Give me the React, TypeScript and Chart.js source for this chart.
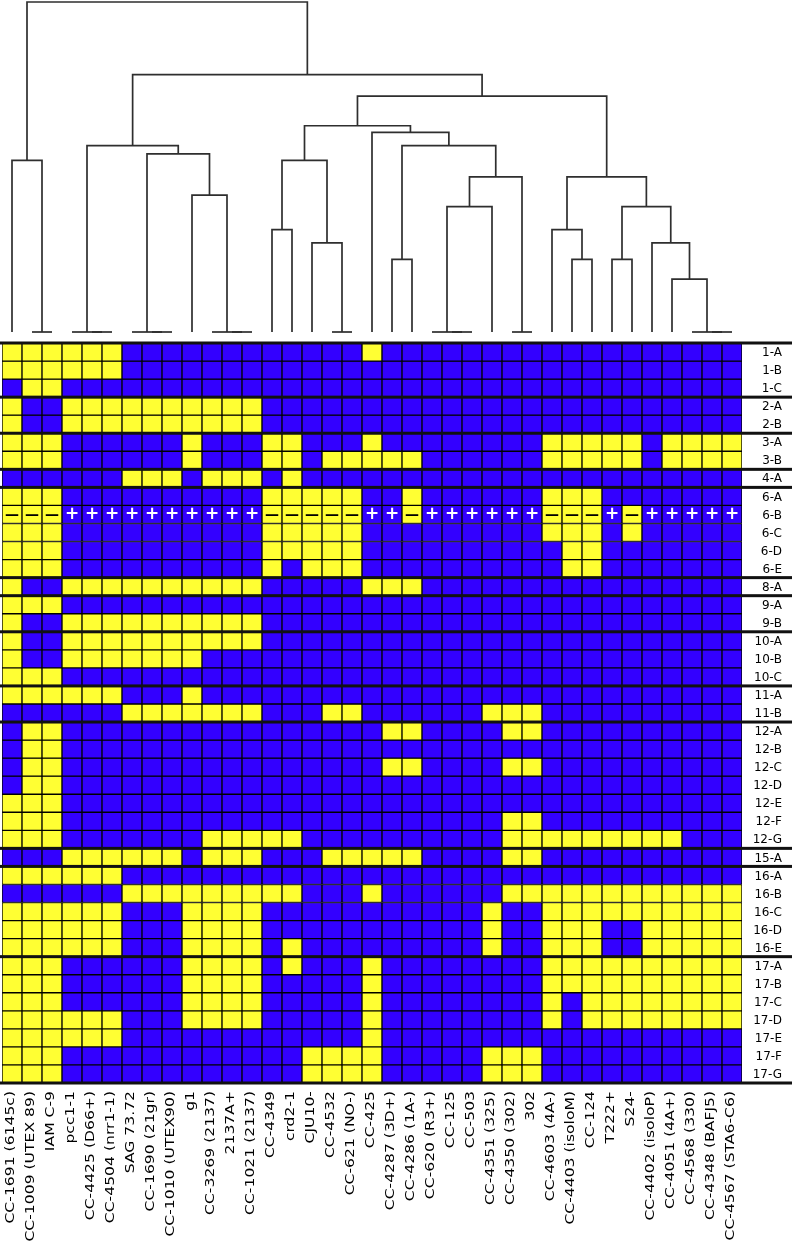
import React, { useEffect, useRef } from "react";
import { Chart, registerables } from "chart.js";

Chart.register(...registerables);

// ---------- data ----------
const strains: string[] = [
  "CC-1691 (6145c)", "CC-1009 (UTEX 89)", "IAM C-9", "pcc1-1", "CC-4425 (D66+)",
  "CC-4504 (nrr1-1)", "SAG 73.72", "CC-1690 (21gr)", "CC-1010 (UTEX90)", "g1",
  "CC-3269 (2137)", "2137A+", "CC-1021 (2137)", "CC-4349", "crd2-1", "CJU10-",
  "CC-4532", "CC-621 (NO-)", "CC-425", "CC-4287 (3D+)", "CC-4286 (1A-)",
  "CC-620 (R3+)", "CC-125", "CC-503", "CC-4351 (325)", "CC-4350 (302)", "302",
  "CC-4603 (4A-)", "CC-4403 (isoloM)", "CC-124", "T222+", "S24-",
  "CC-4402 (isoloP)", "CC-4051 (4A+)", "CC-4568 (330)", "CC-4348 (BAFJ5)",
  "CC-4567 (STA6-C6)",
];

const rowLabels: string[] = [
  "1-A", "1-B", "1-C", "2-A", "2-B", "3-A", "3-B", "4-A",
  "6-A", "6-B", "6-C", "6-D", "6-E", "8-A", "9-A", "9-B",
  "10-A", "10-B", "10-C", "11-A", "11-B",
  "12-A", "12-B", "12-C", "12-D", "12-E", "12-F", "12-G", "15-A",
  "16-A", "16-B", "16-C", "16-D", "16-E",
  "17-A", "17-B", "17-C", "17-D", "17-E", "17-F", "17-G",
];

// column indices (strains) where the marker is present (yellow) for each row
const rowPresent: number[][] = [
  [0, 1, 2, 3, 4, 5, 18],
  [0, 1, 2, 3, 4, 5],
  [1, 2],
  [0, 3, 4, 5, 6, 7, 8, 9, 10, 11, 12],
  [0, 3, 4, 5, 6, 7, 8, 9, 10, 11, 12],
  [0, 1, 2, 9, 13, 14, 18, 27, 28, 29, 30, 31, 33, 34, 35, 36],
  [0, 1, 2, 9, 13, 14, 16, 17, 18, 19, 20, 27, 28, 29, 30, 31, 33, 34, 35, 36],
  [6, 7, 8, 10, 11, 12, 14],
  [0, 1, 2, 13, 14, 15, 16, 17, 20, 27, 28, 29],
  [0, 1, 2, 13, 14, 15, 16, 17, 20, 27, 28, 29, 31],
  [0, 1, 2, 13, 14, 15, 16, 17, 27, 28, 29, 31],
  [0, 1, 2, 13, 14, 15, 16, 17, 28, 29],
  [0, 1, 2, 13, 15, 16, 17, 28, 29],
  [0, 3, 4, 5, 6, 7, 8, 9, 10, 11, 12, 18, 19, 20],
  [0, 1, 2],
  [0, 3, 4, 5, 6, 7, 8, 9, 10, 11, 12],
  [0, 3, 4, 5, 6, 7, 8, 9, 10, 11, 12],
  [0, 3, 4, 5, 6, 7, 8, 9],
  [0, 1, 2],
  [0, 1, 2, 3, 4, 5, 9],
  [6, 7, 8, 9, 10, 11, 12, 16, 17, 24, 25, 26],
  [1, 2, 19, 20, 25, 26],
  [1, 2],
  [1, 2, 19, 20, 25, 26],
  [1, 2],
  [0, 1, 2],
  [0, 1, 2, 25, 26],
  [0, 1, 2, 10, 11, 12, 13, 14, 25, 26, 27, 28, 29, 30, 31, 32, 33],
  [3, 4, 5, 6, 7, 8, 10, 11, 12, 16, 17, 18, 19, 20, 25, 26],
  [0, 1, 2, 3, 4, 5],
  [6, 7, 8, 9, 10, 11, 12, 13, 14, 18, 25, 26, 27, 28, 29, 30, 31, 32, 33, 34, 35, 36],
  [0, 1, 2, 3, 4, 5, 9, 10, 11, 12, 24, 27, 28, 29, 30, 31, 32, 33, 34, 35, 36],
  [0, 1, 2, 3, 4, 5, 9, 10, 11, 12, 24, 27, 28, 29, 32, 33, 34, 35, 36],
  [0, 1, 2, 3, 4, 5, 9, 10, 11, 12, 14, 24, 27, 28, 29, 32, 33, 34, 35, 36],
  [0, 1, 2, 9, 10, 11, 12, 14, 18, 27, 28, 29, 30, 31, 32, 33, 34, 35, 36],
  [0, 1, 2, 9, 10, 11, 12, 18, 27, 28, 29, 30, 31, 32, 33, 34, 35, 36],
  [0, 1, 2, 9, 10, 11, 12, 18, 27, 29, 30, 31, 32, 33, 34, 35, 36],
  [0, 1, 2, 3, 4, 5, 9, 10, 11, 12, 18, 27, 29, 30, 31, 32, 33, 34, 35, 36],
  [0, 1, 2, 3, 4, 5, 18],
  [0, 1, 2, 15, 16, 17, 18, 24, 25, 26],
  [0, 1, 2, 15, 16, 17, 18, 24, 25, 26],
];

// row indices where a new marker group starts (thick separators)
const groupBreaks: number[] = [0, 3, 5, 7, 8, 13, 14, 16, 19, 21, 28, 29, 34, 41];

// row whose cells carry +/− symbols
const signRowLabel = "6-B";

// hierarchical clustering (scipy-style linkage): [childA, childB, distance]
// indices < 37 are strains, indices >= 37 refer to earlier merges
const linkage: [number, number, number][] = [
  [1, 2, 0],        // 37
  [4, 5, 0],        // 38
  [3, 38, 0],       // 39
  [7, 8, 0],        // 40
  [6, 40, 0],       // 41
  [11, 12, 0],      // 42
  [10, 42, 0],      // 43
  [16, 17, 0],      // 44
  [22, 23, 0],      // 45
  [21, 45, 0],      // 46
  [25, 26, 0],      // 47
  [35, 36, 0],      // 48
  [34, 48, 0],      // 49
  [0, 37, 0.52],    // 50
  [9, 43, 0.415],   // 51
  [41, 51, 0.54],   // 52
  [39, 52, 0.565],  // 53
  [13, 14, 0.31],   // 54
  [15, 44, 0.27],   // 55
  [54, 55, 0.52],   // 56
  [19, 20, 0.22],   // 57
  [46, 24, 0.38],   // 58
  [58, 47, 0.47],   // 59
  [57, 59, 0.565],  // 60
  [18, 60, 0.605],  // 61
  [56, 61, 0.625],  // 62
  [28, 29, 0.22],   // 63
  [27, 63, 0.31],   // 64
  [30, 31, 0.22],   // 65
  [33, 49, 0.16],   // 66
  [32, 66, 0.27],   // 67
  [65, 67, 0.38],   // 68
  [64, 68, 0.47],   // 69
  [62, 69, 0.715],  // 70
  [53, 70, 0.78],   // 71
  [50, 71, 1.0],    // 72
];

const YELLOW = "#ffff33";
const BLUE = "#3300ff";
const LINE = "#2e2e2e";
const FONT = "'DejaVu Sans', 'Noto Sans', sans-serif";

const W = 797;
const DEND_H = 340;
const HEAT_H = 904;

function buildDendrogram() {
  const pos: number[] = strains.map((_, i) => i);
  const hgt: number[] = strains.map(() => 0);
  const segments: { x: number; y: number }[][] = [];
  linkage.forEach(([a, b, h]) => {
    const xa = pos[a];
    const xb = pos[b];
    segments.push([
      { x: xa, y: hgt[a] },
      { x: xa, y: h },
      { x: xb, y: h },
      { x: xb, y: hgt[b] },
    ]);
    pos.push((xa + xb) / 2);
    hgt.push(h);
  });
  return segments;
}

export default function App() {
  const dendRef = useRef<HTMLCanvasElement | null>(null);
  const heatRef = useRef<HTMLCanvasElement | null>(null);

  useEffect(() => {
    if (!dendRef.current || !heatRef.current) return;

    const segments = buildDendrogram();
    const dend = new Chart(dendRef.current, {
      type: "scatter",
      data: {
        datasets: segments.map((seg) => ({
          data: seg,
          showLine: true,
          borderColor: LINE,
          borderWidth: 1.7,
          pointRadius: 0,
          tension: 0,
          clip: false as any,
        })),
      },
      options: {
        responsive: false,
        animation: false,
        devicePixelRatio: 1,
        events: [],
        layout: { padding: { left: 2, right: 55, top: 2, bottom: 8 } },
        plugins: { legend: { display: false }, tooltip: { enabled: false } },
        scales: {
          x: { type: "linear", min: -0.5, max: strains.length - 0.5, display: false },
          y: { type: "linear", min: 0, max: 1, display: false },
        },
      },
    });

    const heatPlugin = {
      id: "heatDecor",
      afterDatasetsDraw(chart: any) {
        const { ctx, chartArea } = chart;
        const xs = chart.scales.x;
        const ys = chart.scales.y;
        ctx.save();
        // group separators
        ctx.fillStyle = "#111";
        groupBreaks.forEach((b) => {
          const y = ys.getPixelForValue(b);
          ctx.fillRect(0, y - 1.5, 792, 3);
        });
        // +/− symbols
        const sr = rowLabels.indexOf(signRowLabel);
        const present = new Set(rowPresent[sr]);
        ctx.textAlign = "center";
        ctx.textBaseline = "middle";
        const yc = ys.getPixelForValue(sr + 0.5);
        strains.forEach((_, c) => {
          const x = xs.getPixelForValue(c);
          if (present.has(c)) {
            ctx.fillStyle = "#000";
            ctx.font = `bold 14px ${FONT}`;
            ctx.fillText("\u2014", x, yc + 0.5);
          } else {
            ctx.fillStyle = "#fff";
            ctx.font = `bold 17px ${FONT}`;
            ctx.fillText("+", x, yc + 0.5);
          }
        });
        // row labels (right side)
        ctx.fillStyle = "#000";
        ctx.font = `12px ${FONT}`;
        ctx.textAlign = "right";
        ctx.textBaseline = "middle";
        rowLabels.forEach((lab, r) => {
          ctx.fillText(lab, 782, ys.getPixelForValue(r + 0.5) + 1);
        });
        // strain labels (rotated)
        strains.forEach((s, c) => {
          const x = xs.getPixelForValue(c);
          ctx.save();
          ctx.translate(x - 1, chartArea.bottom + 8);
          ctx.rotate(-Math.PI / 2);
          ctx.scale(1.3, 1);
          ctx.fillText(s, 0, 0);
          ctx.restore();
        });
        ctx.restore();
      },
    };

    const heat = new Chart(heatRef.current, {
      type: "bar",
      data: {
        labels: strains,
        datasets: rowLabels.map((lab, r) => {
          const present = new Set(rowPresent[r]);
          return {
            label: lab,
            data: strains.map(() => [r, r + 1]) as any,
            backgroundColor: strains.map((_, c) => (present.has(c) ? YELLOW : BLUE)),
            borderColor: "#000",
            borderWidth: 1,
            borderSkipped: false as any,
            grouped: false,
            barPercentage: 1,
            categoryPercentage: 1,
          };
        }),
      },
      options: {
        responsive: false,
        animation: false,
        devicePixelRatio: 1,
        events: [],
        layout: { padding: { left: 2, right: 55, top: 3, bottom: 161 } },
        plugins: { legend: { display: false }, tooltip: { enabled: false } },
        scales: {
          x: { type: "category", display: false },
          y: {
            type: "linear",
            display: false,
            min: 0,
            max: rowLabels.length,
            reverse: true,
          },
        },
      },
      plugins: [heatPlugin],
    });

    return () => {
      dend.destroy();
      heat.destroy();
    };
  }, []);

  return (
    <div style={{ width: W, background: "#fff" }}>
      <style>{"body{margin:0;background:#fff}"}</style>
      <canvas ref={dendRef} width={W} height={DEND_H} style={{ display: "block" }} />
      <canvas ref={heatRef} width={W} height={HEAT_H} style={{ display: "block" }} />
    </div>
  );
}
